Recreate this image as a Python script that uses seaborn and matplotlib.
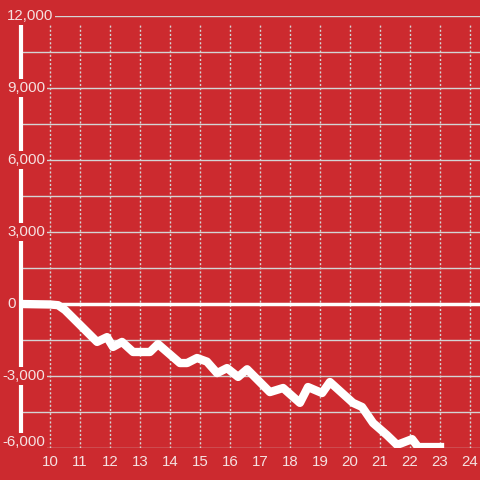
import pandas as pd
import seaborn as sns
import matplotlib.pyplot as plt

# hour of day vs. cumulative value
hours = [9.0, 10.0, 10.27, 10.5, 11.57, 11.9, 12.1, 12.4, 12.77, 13.33, 13.6,
         14.33, 14.57, 14.9, 15.23, 15.57, 15.9, 16.27, 16.57, 17.33, 17.77,
         18.33, 18.6, 19.07, 19.33, 20.1, 20.4, 20.77, 21.23, 21.57, 22.07,
         22.27, 23.0]
values = [0, -20, -50, -250, -1580, -1380, -1790, -1580, -2000, -2000, -1670,
          -2460, -2460, -2250, -2400, -2880, -2670, -3040, -2720, -3670, -3500,
          -4120, -3460, -3710, -3250, -4120, -4290, -4960, -5460, -5870, -5630,
          -5960, -5960]

x_ticks = list(range(10, 25))
y_ticks = [-6000, -3000, 0, 3000, 6000, 9000, 12000]
y_grid = list(range(-6000, 12001, 1500))

bg = "#cc2a2f"
txt = "#f5e1e1"
grid_col = "#d4d4d4"

sns.set_style("white", {"axes.facecolor": bg, "figure.facecolor": bg})
plt.rcParams["font.family"] = ["Liberation Sans", "DejaVu Sans"]

df = pd.DataFrame({"hour": hours, "value": values})

fig = plt.figure(figsize=(4.8, 4.8), dpi=100)
ax = fig.add_axes([21 / 480, 32 / 480, 459 / 480, 432 / 480])
ax.set_xlim(10 - 29 / 30, 10 + 430 / 30)
ax.set_ylim(-6000, 12000)

for y in y_grid:
    ax.axhline(y, color=grid_col, lw=1, zorder=1)
ax.vlines(x_ticks, -6000, 11700, colors=grid_col, lw=1,
          linestyles=(0, (1.5, 1.5)), zorder=1)
ax.axhline(0, color="white", lw=2.5, zorder=2)

sns.lineplot(data=df, x="hour", y="value", ax=ax, color="white", lw=6,
             zorder=4)
for ln in ax.get_lines():
    ln.set_solid_joinstyle("round")
    ln.set_solid_capstyle("projecting")

for s in ["top", "right", "bottom"]:
    ax.spines[s].set_visible(False)
ax.spines["left"].set_color("white")
ax.spines["left"].set_linewidth(3)
ax.spines["left"].set_bounds(-6000, 11700)

ax.set_yticks([])
for y in y_ticks:
    x_px = 7 if y >= 0 else 2
    dy = 4.5 if y == y_ticks[0] else 0
    ax.annotate(f"{y:,}", xy=((x_px - 21) / 459, y),
                xycoords=ax.get_yaxis_transform(),
                xytext=(0, dy), textcoords="offset points",
                ha="left", va="center", color=txt, fontsize=10.8, zorder=5,
                annotation_clip=False,
                bbox=dict(facecolor=bg, edgecolor="none", pad=1.5))

ax.set_xticks(x_ticks)
ax.set_xticklabels([str(h) for h in x_ticks])
ax.tick_params(axis="x", length=0, pad=5, labelsize=10.8, labelcolor=txt)
ax.set_xlabel("")
ax.set_ylabel("")

fig.savefig("out.png", dpi=100, facecolor=bg)
